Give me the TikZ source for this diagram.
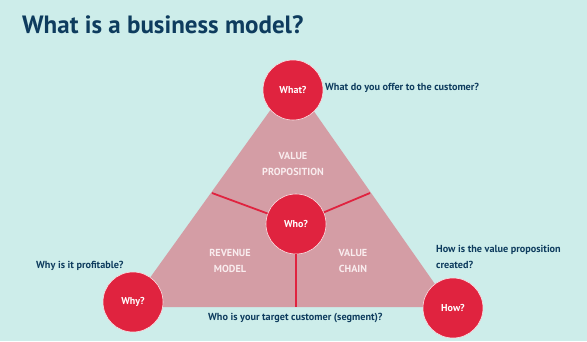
\documentclass[tikz,border=0pt]{standalone}
\usepackage{fontspec}
\setmainfont{PT Sans}
\definecolor{bgc}{HTML}{CDEDEA}
\definecolor{navy}{HTML}{0E3C5E}
\definecolor{crim}{HTML}{E0233F}
\definecolor{tri}{HTML}{D49DA5}
\definecolor{pale}{HTML}{F9ECEE}
\begin{document}
\begin{tikzpicture}[x=1pt,y=-1pt,
  bubble/.style={circle,fill=crim,draw=white!85!crim,line width=0.6pt,minimum size=60pt,inner sep=0pt,text=white,font=\bfseries\fontsize{10}{12}\selectfont},
  question/.style={text=navy,font=\bfseries\fontsize{10.2}{16}\selectfont,inner sep=0pt},
  area/.style={text=pale,font=\bfseries\fontsize{10.2}{16}\selectfont,align=center,inner sep=0pt},
  spoke/.style={draw=crim,line width=1.8pt}]
\fill[bgc] (0,0) rectangle (587,341);
\useasboundingbox (0,0) rectangle (587,341);
% title
\node[anchor=base west,inner sep=0pt,text=navy,font=\bfseries\fontsize{25}{29}\selectfont] (title) at (22,33) {What is a business model?};
% triangle
\coordinate (A) at (292,80);
\coordinate (B) at (129,307);
\coordinate (C) at (451,307);
\fill[tri] (A) -- (B) -- (C) -- cycle;
\coordinate (sl) at (212,193);
\coordinate (sr) at (370,193);
\coordinate (sb) at (296,307);
\node[bubble] (who) at (296,224) {Who?};
\draw[spoke] (who) -- (sl);
\draw[spoke] (who) -- (sr);
\draw[spoke] (who) -- (sb);
\node[bubble] (what) at (293,90) {What?};
\node[bubble] (why) at (133,302) {Why?};
\node[bubble] (how) at (453,308) {How?};
% area labels
\node[area] (vp) at (293,164) {VALUE\\PROPOSITION};
\node[area] (rm) at (230,261) {REVENUE\\MODEL};
\node[area] (vc) at (353,261) {VALUE\\CHAIN};
% questions
\node[question,anchor=west] (qwhat) at (325,88) {What do you offer to the customer?};
\node[question,anchor=west] (qwhy) at (36,266) {Why is it profitable?};
\node[question,anchor=west] (qwho) at (208,318) {Who is your target customer (segment)?};
\node[question,anchor=west,align=left] (qhow) at (436,257) {How is the value proposition\\created?};
\end{tikzpicture}
\end{document}
